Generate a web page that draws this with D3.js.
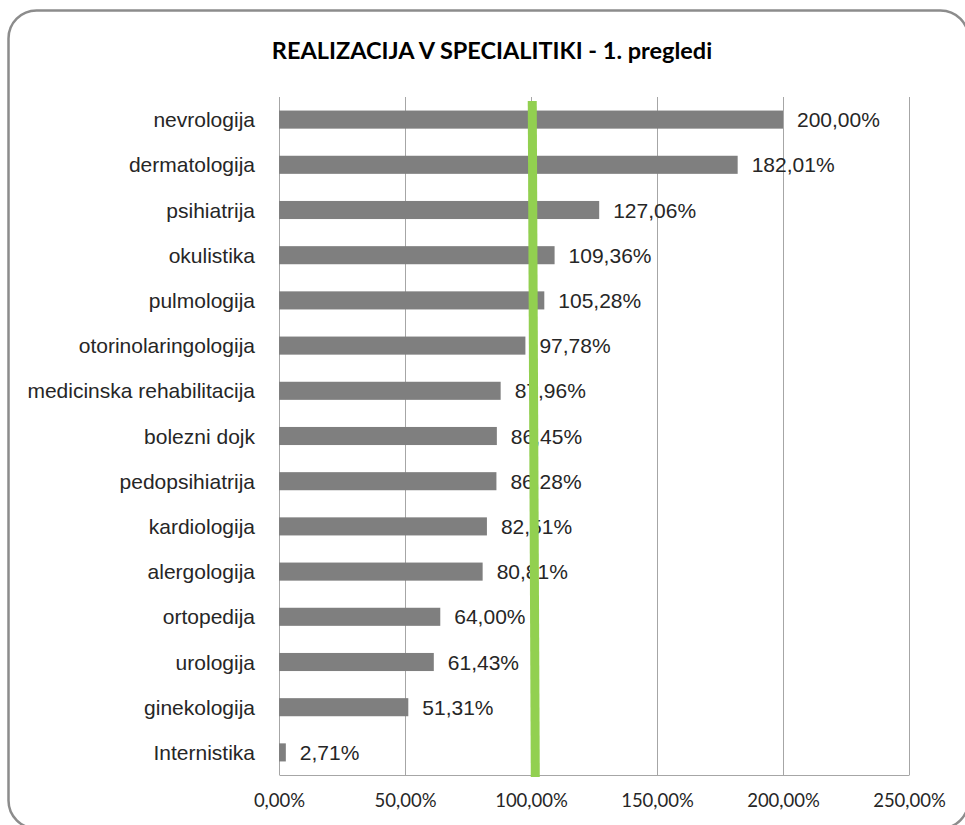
<!DOCTYPE html>
<html>
<head>
<meta charset="utf-8">
<script src="https://cdn.jsdelivr.net/npm/d3@7"></script>
<style>
  body { margin: 0; background: #fff; }
  svg { display: block; }
</style>
</head>
<body>
<div id="chart"></div>
<script>
const categories = ["nevrologija", "dermatologija", "psihiatrija", "okulistika", "pulmologija",
  "otorinolaringologija", "medicinska rehabilitacija", "bolezni dojk", "pedopsihiatrija",
  "kardiologija", "alergologija", "ortopedija", "urologija", "ginekologija", "Internistika"];
const values = [200.00, 182.01, 127.06, 109.36, 105.28, 97.78, 87.96, 86.45, 86.28,
  82.51, 80.81, 64.00, 61.43, 51.31, 2.71];
const xTicks = [0, 50, 100, 150, 200, 250];
// target line (slightly slanted in the original): value at top, value at bottom
const targetLine = [100.5, 101.7];
const title = "REALIZACIJA V SPECIALITIKI -  1. pregledi";

const svgWidth = 965, svgHeight = 825;
const margin = { top: 97, right: 56, bottom: 50, left: 279 },
  width = svgWidth - margin.left - margin.right,
  height = svgHeight - margin.top - margin.bottom;

const fmt = v => v.toFixed(2).replace(".", ",") + "%";

const svg = d3.select("#chart").append("svg")
  .attr("width", svgWidth)
  .attr("height", svgHeight);

// outer frame with rounded corners
svg.append("rect")
  .attr("x", 8.5).attr("y", 10.5)
  .attr("width", 960).attr("height", 818)
  .attr("rx", 28)
  .attr("fill", "#fff")
  .attr("stroke", "#8c8c8c")
  .attr("stroke-width", 2.5);

svg.append("text")
  .attr("x", 492).attr("y", 59)
  .attr("text-anchor", "middle")
  .style("font-family", "Lato, sans-serif")
  .style("font-weight", "bold")
  .style("font-size", "23.5px")
  .attr("fill", "#000")
  .text(title);

const g = svg.append("g")
  .attr("transform", "translate(" + margin.left + "," + margin.top + ")");

const x = d3.scaleLinear().domain([0, 250]).range([0, width]);
const y = d3.scaleBand().domain(categories).range([0, height])
  .paddingInner(0.6).paddingOuter(0.3);

// gridlines
g.append("g")
  .selectAll("line")
  .data(xTicks)
  .join("line")
  .attr("x1", d => Math.round(x(d)) + 0.5)
  .attr("x2", d => Math.round(x(d)) + 0.5)
  .attr("y1", 0).attr("y2", height)
  .attr("stroke", "#a6a6a6");

// bottom axis
const xAxis = g.append("g")
  .attr("transform", "translate(0," + height + ")")
  .call(d3.axisBottom(x).tickValues(xTicks).tickFormat(fmt).tickSize(0).tickPadding(19));
xAxis.select(".domain").attr("stroke", "#a6a6a6").attr("d", "M0.5,0.5H" + (width + 0.5));
xAxis.selectAll("text")
  .style("font-family", "Lato, sans-serif")
  .style("font-size", "18.5px")
  .attr("fill", "#262626");

// category labels
g.append("g")
  .selectAll("text")
  .data(categories)
  .join("text")
  .attr("x", -24)
  .attr("y", d => y(d) + y.bandwidth() / 2)
  .attr("dy", "0.36em")
  .attr("text-anchor", "end")
  .style("font-family", "'Liberation Sans', Arial, sans-serif")
  .style("font-size", "21px")
  .attr("fill", "#262626")
  .text(d => d);

// bars
g.append("g")
  .selectAll("rect")
  .data(values)
  .join("rect")
  .attr("x", 0)
  .attr("y", (d, i) => y(categories[i]))
  .attr("width", d => x(d))
  .attr("height", y.bandwidth())
  .attr("fill", "#7f7f7f");

// data labels
g.append("g")
  .selectAll("text")
  .data(values)
  .join("text")
  .attr("x", d => x(d) + 14)
  .attr("y", (d, i) => y(categories[i]) + y.bandwidth() / 2)
  .attr("dy", "0.36em")
  .style("font-family", "'Liberation Sans', Arial, sans-serif")
  .style("font-size", "21px")
  .attr("fill", "#262626")
  .text(fmt);

// target line drawn on top
const line = d3.line()
  .x(d => x(d.v))
  .y(d => d.y);
g.append("path")
  .datum([{ v: targetLine[0], y: y.range()[0] + 4 }, { v: targetLine[1], y: y.range()[1] + 2 }])
  .attr("d", line)
  .attr("fill", "none")
  .attr("stroke", "#92d050")
  .attr("stroke-width", 9);
</script>
</body>
</html>
